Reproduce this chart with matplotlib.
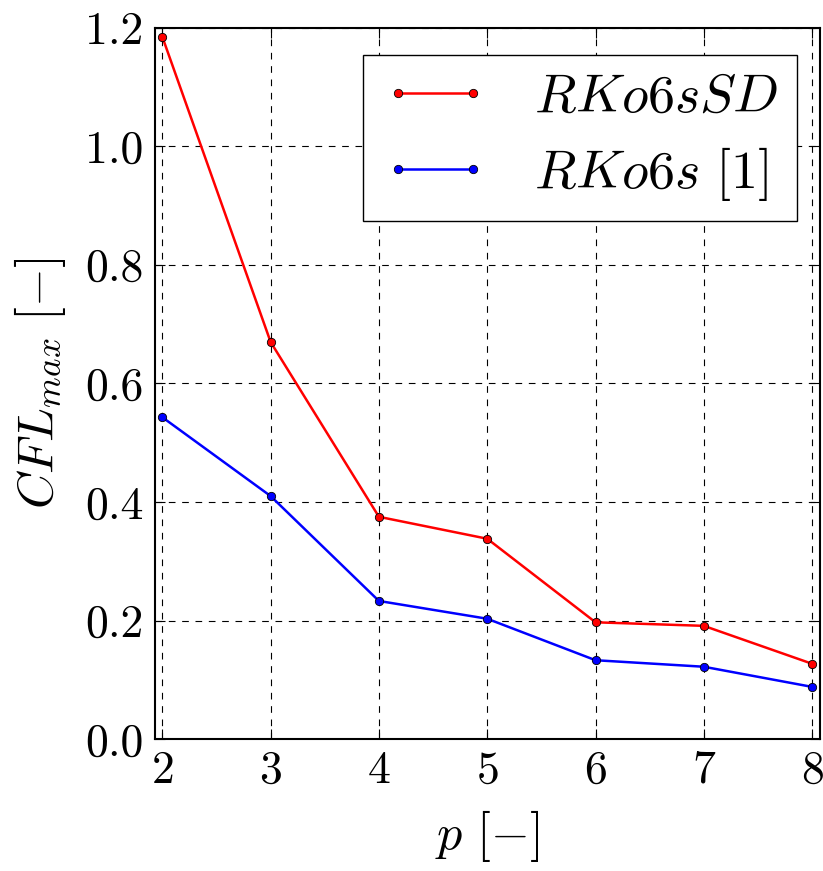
import numpy as np
import matplotlib
matplotlib.use('Agg')
import matplotlib.pyplot as plt

plt.rcParams['mathtext.fontset'] = 'cm'
plt.rcParams['font.family'] = 'cmr10'
plt.rcParams['axes.formatter.use_mathtext'] = True
plt.rcParams['axes.unicode_minus'] = False

# polynomial order and max CFL numbers
p = [2, 3, 4, 5, 6, 7, 8]
cfl_sd = [1.185, 0.670, 0.375, 0.338, 0.197, 0.191, 0.127]
cfl_ref = [0.543, 0.410, 0.233, 0.203, 0.133, 0.122, 0.088]

fig = plt.figure(figsize=(8.23, 8.71), dpi=100)
ax = fig.add_axes([0.188, 0.1515, 0.808, 0.8165])

ax.plot(p, cfl_sd, '-o', color='red', lw=1.8, ms=6, mec='black', mew=0.6,
        label=r'$RKo6sSD$')
ax.plot(p, cfl_ref, '-o', color='blue', lw=1.8, ms=6, mec='black', mew=0.6,
        label=r'$RKo6s\ [1]$')

ax.set_xlim(1.93, 8.07)
ax.set_ylim(0, 1.2)
ax.set_xticks(p)
ax.set_yticks(np.arange(0, 1.21, 0.2))
ax.yaxis.set_major_formatter(matplotlib.ticker.FormatStrFormatter('%.1f'))
ax.tick_params(direction='in', top=True, right=True, labelsize=33, length=7, pad=8)
ax.grid(True, color='black', linestyle='--', linewidth=0.8, dashes=(6, 6))
for s in ax.spines.values():
    s.set_linewidth(1.5)

ax.set_xlabel(r'$p\ [-]$', fontsize=36, labelpad=12)
ax.set_ylabel(r'$CFL_{max}\ [-]$', fontsize=36, labelpad=12)

leg = ax.legend(loc='upper right', fontsize=39, numpoints=2, handlelength=1.98,
                fancybox=False, framealpha=1, borderpad=0.35, labelspacing=0.42,
                handletextpad=0.83, borderaxespad=0,
                bbox_to_anchor=(0.966, 0.962))
leg.get_frame().set_edgecolor('black')

plt.savefig('out.png', dpi=100)
plt.close()
